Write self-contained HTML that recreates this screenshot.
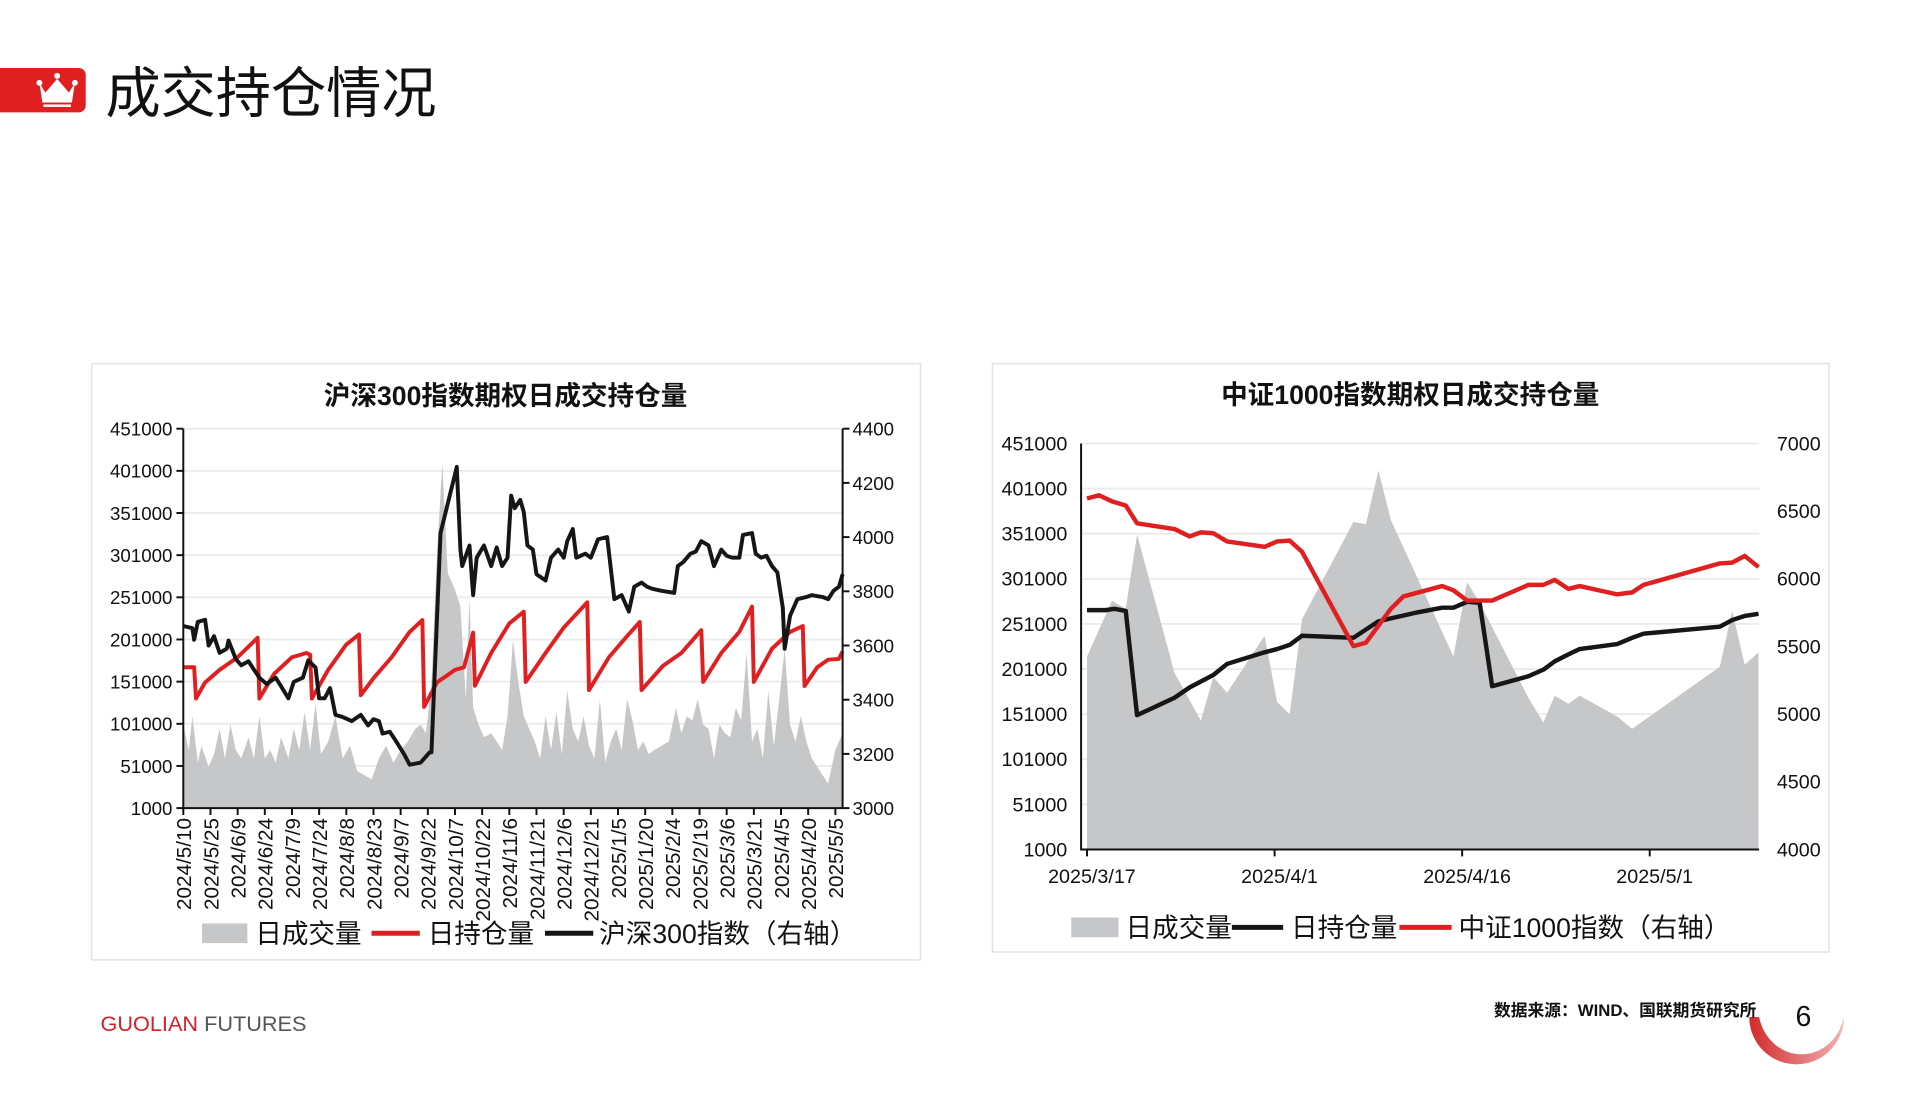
<!DOCTYPE html>
<html><head><meta charset="utf-8">
<style>
html,body{margin:0;padding:0;background:#fff;}
body{width:1919px;height:1114px;overflow:hidden;position:relative;font-family:"Liberation Sans","Noto Sans CJK SC",sans-serif;}
svg text{font-family:"Liberation Sans","Noto Sans CJK SC",sans-serif;}
</style></head>
<body>
<svg id="page" width="1919" height="1114" viewBox="0 0 1919 1114" xmlns="http://www.w3.org/2000/svg">
<g transform="scale(0.9855)">
  <g>
    <path d="M0 69 H80 a7 7 0 0 1 7 7 V107 a7 7 0 0 1 -7 7 H0 Z" fill="#e02020"/>
    <g fill="#fff">
      <path d="M40 84 L46 94 L58 80 L70 94 L76 84 L73 104 L43 104 Z"/>
      <circle cx="40" cy="84" r="3"/><circle cx="58" cy="77" r="3"/><circle cx="76" cy="84" r="3"/>
      <rect x="44" y="106" width="28" height="2.5"/>
    </g>
    <text x="107" y="114" font-size="56" fill="#111">成交持仓情况</text>
  </g>

  <rect x="93" y="369" width="841" height="605" fill="#fff" stroke="#e2e2e2" stroke-width="1.5"/>
  <rect x="1007" y="369" width="849" height="597" fill="#fff" stroke="#e2e2e2" stroke-width="1.5"/>

  <g id="left"></g>
  <g id="right"></g>

  <g>
    <text x="102" y="1046" font-size="22"><tspan fill="#d62027">GUOLIAN</tspan><tspan fill="#555"> FUTURES</tspan></text>
    <defs><linearGradient id="sw" x1="0" x2="1"><stop offset="0" stop-color="#d42a2a"/><stop offset="1" stop-color="#f0b4b4"/></linearGradient></defs>
    <path d="M1775 1032 A48 48 0 0 0 1871 1032 A44 48 0 0 1 1785 1032 Z" fill="url(#sw)"/>
    <text x="1516" y="1031" font-size="17" font-weight="bold" fill="#111" font-family="'Liberation Mono','Noto Sans CJK SC',monospace">数据来源：WIND、国联期货研究所</text>
    <text x="1830" y="1041" font-size="29" fill="#111" text-anchor="middle">6</text>
  </g>
</g>
</svg>
<script>
// ===== Left chart data (x = calendar days from 2024/5/10) =====
const hsVolDays = [0,3,5,8,10,14,17,20,23,26,29,32,36,39,42,45,48,51,54,58,61,64,67,70,73,76,80,84,88,92,96,100,104,108,112,116,120,124,128,131,134,137,140,143,146,150,153,156,158,160,163,166,170,173,176,179,182,185,188,191,194,197,200,203,206,209,212,215,218,221,224,227,230,233,236,239,242,245,248,251,254,257,260,264,268,272,275,278,281,284,287,290,293,296,299,302,305,308,311,314,317,320,323,326,329,332,335,338,341,344,347,350,353,356,360,364];
const hsVol = [100000,70000,110000,55000,75000,50000,65000,95000,60000,100000,70000,60000,85000,60000,110000,60000,70000,55000,85000,60000,95000,70000,115000,70000,125000,65000,80000,110000,60000,75000,45000,40000,35000,60000,75000,55000,70000,80000,95000,100000,90000,150000,300000,410000,280000,260000,240000,130000,250000,120000,100000,85000,90000,80000,70000,110000,200000,150000,110000,95000,80000,60000,110000,70000,115000,65000,140000,95000,80000,110000,75000,60000,130000,55000,80000,95000,70000,130000,105000,70000,80000,65000,70000,75000,80000,120000,90000,110000,105000,130000,100000,95000,60000,100000,90000,85000,120000,105000,185000,80000,95000,60000,140000,75000,130000,190000,100000,80000,110000,80000,60000,50000,40000,30000,70000,90000];
const hsOiDays = [0,6,7,12,20,30,41,42,50,60,68,70,71,80,90,97,98,105,115,125,132,133,140,150,155,160,161,170,180,188,189,200,210,223,224,235,245,252,253,265,275,286,287,297,307,314,315,325,335,342,343,350,356,362,364];
const hsOi = [168000,168000,131000,150000,165000,180000,203000,131000,160000,180000,185000,183000,131000,165000,195000,207000,135000,155000,180000,210000,224000,121000,150000,165000,168000,209000,146000,185000,220000,234000,150600,185000,215000,245000,141000,180000,205000,221800,141000,170000,185000,212000,150600,185000,210000,240000,150600,190000,210000,217000,145800,168000,177000,178000,187000];
const hsIdxDays = [0,5,6,8,12,14,17,20,24,25,29,32,36,39,42,46,51,54,58,61,66,69,73,75,78,81,84,88,93,98,102,105,108,110,114,117,122,125,131,136,137,142,151,153,154,158,160,162,166,170,173,176,179,181,183,186,188,190,193,195,200,203,207,210,212,215,217,222,225,229,234,238,242,246,249,253,256,259,264,271,273,276,280,283,286,290,293,297,300,303,307,309,314,316,319,322,325,328,331,332,335,339,344,347,353,356,359,362,364];
const hsIdx = [3672,3664,3621,3687,3695,3600,3634,3573,3588,3618,3550,3527,3542,3511,3481,3458,3481,3450,3405,3466,3481,3545,3519,3405,3405,3443,3344,3336,3321,3344,3305,3328,3321,3275,3282,3252,3198,3160,3168,3206,3206,4015,4259,3954,3893,3969,3786,3924,3969,3893,3962,3893,3924,4153,4107,4137,4092,3969,3954,3863,3840,3924,3954,3924,3985,4030,3924,3939,3924,3992,4000,3771,3786,3725,3817,3832,3817,3809,3802,3794,3893,3908,3939,3947,3985,3969,3893,3954,3931,3924,3924,4008,4015,3939,3924,3931,3893,3870,3740,3588,3710,3771,3779,3786,3779,3771,3802,3817,3863];
const hsLeftTicks = [1000,51000,101000,151000,201000,251000,301000,351000,401000,451000];
const hsRightTicks = [3000,3200,3400,3600,3800,4000,4200,4400];
const hsXLabels = ["2024/5/10","2024/5/25","2024/6/9","2024/6/24","2024/7/9","2024/7/24","2024/8/8","2024/8/23","2024/9/7","2024/9/22","2024/10/7","2024/10/22","2024/11/6","2024/11/21","2024/12/6","2024/12/21","2025/1/5","2025/1/20","2025/2/4","2025/2/19","2025/3/6","2025/3/21","2025/4/5","2025/4/20","2025/5/5"];
const hsXLabelDays = [0,15,30,45,60,75,90,105,120,135,150,165,180,195,210,225,240,255,270,285,300,315,330,345,360];

// ===== Right chart data (x = calendar days from 2025/3/17) =====
const zzVolDays = [0,2,3.1,4,7,9.1,10.1,11.2,14.2,15.2,16.2,17.2,21.3,22.3,23.3,24.3,29.3,30.4,31.4,35.3,36.5,37.4,38.5,39.4,42.4,43.6,50.6,51.6,52.6,53.7];
const zzVol = [215000,276800,267700,350100,196700,143900,192100,174700,237900,164600,150800,256200,363900,361600,421200,366200,215000,297500,274500,169200,141700,171500,162400,171500,148500,134800,203500,265400,205800,219600];
const zzOiDays = [0,1.5,2.2,3.1,4,7,8.2,10.1,11.2,14.2,15.2,16.2,17.2,21.3,22.3,23.3,24.3,26.2,28.4,29.3,30.4,31.4,32.4,35.3,36.5,37.4,38.5,39.4,42.4,43.6,44.5,50.6,51.6,52.6,53.7];
const zzOi = [266300,266300,267700,265400,149900,169200,180600,194400,206700,219600,223200,227800,237900,235600,244800,253900,257100,263100,269000,269000,275500,274500,182000,193000,200300,209500,217300,223200,228700,235600,240200,248000,255300,259900,262200];
const zzIdxDays = [0,0.95,2,3.1,4,7,8.2,9.1,10.1,11.2,14.2,15.2,16.2,17.2,21.3,22.3,24.3,25.3,28.4,29.3,30.4,32.4,35.3,36.5,37.4,38.5,39.4,42.4,43.6,44.5,50.6,51.6,52.6,53.7];
const zzIdx = [6594,6618,6572,6542,6410,6368,6313,6343,6337,6276,6236,6276,6282,6200,5503,5528,5778,5870,5946,5915,5839,5839,5955,5955,5992,5925,5946,5885,5900,5955,6114,6120,6169,6087];
const zzLeftTicks = [1000,51000,101000,151000,201000,251000,301000,351000,401000,451000];
const zzRightTicks = [4000,4500,5000,5500,6000,6500,7000];
const zzXLabels = ["2025/3/17","2025/4/1","2025/4/16","2025/5/1"];
const zzXLabelDays = [0,15,30,45];

const NS = "http://www.w3.org/2000/svg";
function mk(parent, tag, attrs, txt){
  const e = document.createElementNS(NS, tag);
  for (const k in attrs) e.setAttribute(k, attrs[k]);
  if (txt !== undefined) e.textContent = txt;
  parent.appendChild(e);
  return e;
}
function linear(d0,d1,r0,r1){return v => r0 + (v-d0)/(d1-d0)*(r1-r0);}
function pathOf(xs, ys, fx, fy){return xs.map((d,i)=>(i?'L':'M')+fx(d).toFixed(1)+' '+fy(ys[i]).toFixed(1)).join(' ');}

// ---------- LEFT ----------
(function(){
  const g = document.getElementById('left');
  const X0=186, X1=855, Y0=820, Y1=435;
  const fx = linear(0,364,X0,X1);
  const fyL = linear(1000,451000,Y0,Y1);
  const fyR = linear(3000,4400,Y0,Y1);
  let t = mk(g,'text',{x:513,y:411,'font-size':27,'text-anchor':'middle',fill:'#111','font-weight':'bold'},'沪深300指数期权日成交持仓量');
  
  
  hsLeftTicks.forEach(v=>{
    const y=fyL(v);
    if (v>1000){ const gl=mk(g,'line',{x1:X0,x2:X1,y1:y,y2:y,stroke:'#ececec','stroke-width':2});
      
       }
    const tk=mk(g,'line',{x1:X0-7,x2:X0,y1:y,y2:y,stroke:'#111','stroke-width':2});
    
    
    const l=mk(g,'text',{x:X0-11,y:y+7,'font-size':19,'text-anchor':'end',fill:'#111'},String(v));
    
    
  });
  hsRightTicks.forEach(v=>{
    const y=fyR(v);
    const tk=mk(g,'line',{x1:X1,x2:X1+7,y1:y,y2:y,stroke:'#111','stroke-width':2});
    
    
    const l=mk(g,'text',{x:X1+10,y:y+7,'font-size':19,fill:'#111'},String(v));
    
    
  });
  const area = mk(g,'path',{d:pathOf(hsVolDays,hsVol,fx,fyL)+' L'+fx(hsVolDays[hsVolDays.length-1])+' '+Y0+' L'+fx(0)+' '+Y0+' Z',fill:'#c6c7c9'});
  
  
  const red = mk(g,'path',{d:pathOf(hsOiDays,hsOi,fx,fyL),fill:'none',stroke:'#e02020','stroke-width':4,'stroke-linejoin':'round'});
  
  
  const blk = mk(g,'path',{d:pathOf(hsIdxDays,hsIdx,fx,fyR),fill:'none',stroke:'#161616','stroke-width':4,'stroke-linejoin':'round'});
  
  
  const ax = mk(g,'path',{d:`M${X0} ${Y1} V${Y0} H${X1} V${Y1}`,fill:'none',stroke:'#111','stroke-width':2});
  
  
  hsXLabelDays.forEach((d,i)=>{
    const x=fx(d);
    const tk=mk(g,'line',{x1:x,x2:x,y1:Y0,y2:Y0+7,stroke:'#111','stroke-width':2});
    
    
    const l=mk(g,'text',{x:0,y:0,'font-size':21,'text-anchor':'end',fill:'#111',transform:`translate(${x+8},${Y0+10}) rotate(-90)`},hsXLabels[i]);
    
    
  });
  const lg = mk(g,'g',{});
  
  
  mk(lg,'rect',{x:205,y:937,width:46,height:20,fill:'#c6c7c9'});
  mk(lg,'text',{x:259,y:957,'font-size':27,fill:'#111'},'日成交量');
  mk(lg,'line',{x1:377,x2:426,y1:947,y2:947,stroke:'#e02020','stroke-width':5});
  mk(lg,'text',{x:434,y:957,'font-size':27,fill:'#111'},'日持仓量');
  mk(lg,'line',{x1:553,x2:602,y1:947,y2:947,stroke:'#161616','stroke-width':5});
  mk(lg,'text',{x:608,y:957,'font-size':27,fill:'#111'},'沪深300指数（右轴）');
})();

// ---------- RIGHT ----------
(function(){
  const g = document.getElementById('right');
  const X0=1097, X1=1785, Y0=862, Y1=450;
  const fx = linear(0,45,1103,1674);
  const fyL = linear(1000,451000,Y0,Y1);
  const fyR = linear(4000,7000,Y0,Y1);
  let t = mk(g,'text',{x:1431,y:410,'font-size':27,'text-anchor':'middle',fill:'#111','font-weight':'bold'},'中证1000指数期权日成交持仓量');
  
  
  zzLeftTicks.forEach(v=>{
    const y=fyL(v);
    if (v>1000){ const gl=mk(g,'line',{x1:X0,x2:X1,y1:y,y2:y,stroke:'#ececec','stroke-width':2});
      
       }
    const l=mk(g,'text',{x:X0-14,y:y+7,'font-size':20,'text-anchor':'end',fill:'#111'},String(v));
    
    
  });
  zzRightTicks.forEach(v=>{
    const y=fyR(v);
    const l=mk(g,'text',{x:1803,y:y+7,'font-size':20,fill:'#111'},String(v));
    
    
  });
  const area = mk(g,'path',{d:pathOf(zzVolDays,zzVol,fx,fyL)+' L'+fx(zzVolDays[zzVolDays.length-1])+' '+Y0+' L'+fx(0)+' '+Y0+' Z',fill:'#c6c7c9'});
  
  
  const blk = mk(g,'path',{d:pathOf(zzOiDays,zzOi,fx,fyL),fill:'none',stroke:'#161616','stroke-width':4.5,'stroke-linejoin':'round'});
  
  
  const red = mk(g,'path',{d:pathOf(zzIdxDays,zzIdx,fx,fyR),fill:'none',stroke:'#e02020','stroke-width':4.5,'stroke-linejoin':'round'});
  
  
  const ax = mk(g,'path',{d:`M${X0} ${Y1} V${Y0} H${X1}`,fill:'none',stroke:'#111','stroke-width':2});
  
  
  zzXLabelDays.forEach((d,i)=>{
    const x=fx(d);
    const tk=mk(g,'line',{x1:x,x2:x,y1:Y0,y2:Y0+7,stroke:'#111','stroke-width':2});
    
    
    const l=mk(g,'text',{x:x+5,y:896,'font-size':20,'text-anchor':'middle',fill:'#111'},zzXLabels[i]);
    
    
  });
  const lg = mk(g,'g',{});
  
  
  mk(lg,'rect',{x:1087,y:931,width:48,height:20,fill:'#c6c7c9'});
  mk(lg,'text',{x:1142,y:951,'font-size':27,fill:'#111'},'日成交量');
  mk(lg,'line',{x1:1250,x2:1302,y1:941,y2:941,stroke:'#161616','stroke-width':5});
  mk(lg,'text',{x:1310,y:951,'font-size':27,fill:'#111'},'日持仓量');
  mk(lg,'line',{x1:1420,x2:1473,y1:941,y2:941,stroke:'#e02020','stroke-width':5});
  mk(lg,'text',{x:1480,y:951,'font-size':27,fill:'#111'},'中证1000指数（右轴）');
})();
</script>
</body></html>
